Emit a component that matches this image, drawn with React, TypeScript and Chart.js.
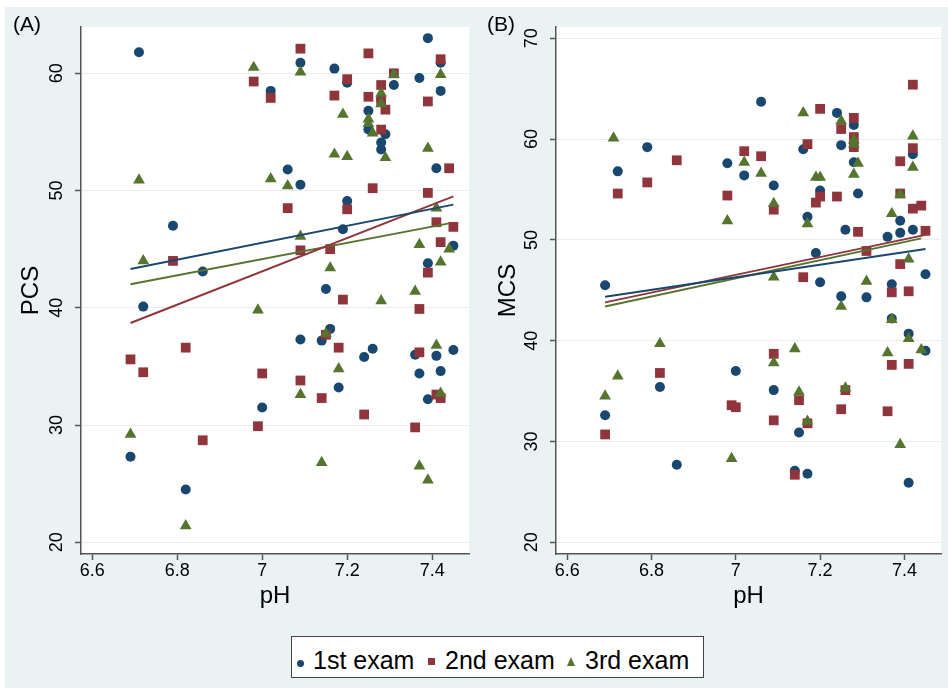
import React, { useEffect, useRef } from "react";
import { Chart, registerables } from "chart.js";
Chart.register(...registerables);

const FONT = "'Liberation Sans', Arial, Helvetica, sans-serif";

const seriesNames = ["1st exam", "2nd exam", "3rd exam"];
const xTicks = [6.6, 6.8, 7, 7.2, 7.4];
const xTickLabels = ["6.6", "6.8", "7", "7.2", "7.4"];
const pcsTicks = [20, 30, 40, 50, 60];
const mcsTicks = [20, 30, 40, 50, 60, 70];

type P = [number, number];

// Panel A: PCS vs pH
const pcs1: P[] = [[6.71,61.8],[7.02,58.5],[6.79,47.0],[6.86,43.1],[6.72,40.1],[7.00,31.5],[6.69,27.3],[6.82,24.5],[7.39,63.0],[7.09,60.9],[7.42,60.9],[7.17,60.4],[7.20,59.2],[7.31,59.0],[7.37,59.6],[7.42,58.5],[7.28,57.8],[7.25,56.8],[7.25,55.2],[7.29,54.8],[7.28,54.1],[7.28,53.5],[7.41,51.9],[7.06,51.8],[7.09,50.5],[7.20,49.1],[7.19,46.7],[7.45,45.3],[7.39,43.8],[7.15,41.6],[7.09,37.3],[7.14,37.2],[7.16,38.2],[7.24,35.8],[7.26,36.5],[7.36,36.0],[7.41,35.9],[7.45,36.4],[7.37,34.4],[7.42,34.6],[7.18,33.2],[7.39,32.2]];
const pcs2: P[] = [[6.98,59.3],[7.02,57.9],[6.79,44.0],[6.82,36.6],[6.69,35.6],[6.72,34.5],[7.00,34.4],[6.99,29.9],[6.86,28.7],[7.09,62.1],[7.25,61.7],[7.42,61.2],[7.20,59.5],[7.31,60.0],[7.28,59.0],[7.28,57.6],[7.29,56.9],[7.17,58.1],[7.25,58.0],[7.39,57.6],[7.28,55.2],[7.44,51.9],[7.26,50.2],[7.39,49.8],[7.06,48.5],[7.20,48.4],[7.41,47.3],[7.45,46.9],[7.42,45.6],[7.09,44.9],[7.16,45.0],[7.39,43.0],[7.19,40.7],[7.37,39.9],[7.15,37.7],[7.18,36.6],[7.37,36.2],[7.09,33.8],[7.14,32.3],[7.41,32.6],[7.42,32.3],[7.24,30.9],[7.36,29.8]];
const pcs3: P[] = [[6.98,60.5],[6.71,50.9],[7.02,51.0],[6.72,44.0],[6.99,39.8],[6.69,29.2],[6.82,21.4],[7.09,60.1],[7.31,59.9],[7.42,59.9],[7.28,58.3],[7.28,57.4],[7.19,56.5],[7.25,56.1],[7.25,55.7],[7.26,54.9],[7.29,52.8],[7.17,53.1],[7.20,52.9],[7.39,53.6],[7.06,50.4],[7.41,48.5],[7.09,46.1],[7.44,45.0],[7.37,45.4],[7.42,43.9],[7.16,43.4],[7.28,40.6],[7.36,41.4],[7.15,37.8],[7.41,36.8],[7.18,34.8],[7.09,32.6],[7.42,32.7],[7.14,26.8],[7.37,26.5],[7.39,25.3]];
const pcsFit1: P[] = [[6.69,43.3],[7.45,48.8]];
const pcsFit2: P[] = [[6.69,38.7],[7.45,49.5]];
const pcsFit3: P[] = [[6.69,42.0],[7.44,47.2]];

// Panel B: MCS vs pH
const mcs1: P[] = [[6.79,59.2],[6.72,56.8],[6.98,57.6],[6.69,45.5],[6.82,35.4],[6.69,32.6],[6.86,27.7],[7.00,37.0],[7.06,63.7],[7.24,62.6],[7.28,61.4],[7.25,59.4],[7.42,58.5],[7.16,59.0],[7.28,57.7],[7.02,56.4],[7.09,55.4],[7.20,54.9],[7.29,54.6],[7.17,52.3],[7.39,51.9],[7.26,51.0],[7.36,50.3],[7.39,50.7],[7.42,51.0],[7.19,48.7],[7.45,46.6],[7.20,45.8],[7.37,45.6],[7.25,44.4],[7.31,44.3],[7.37,42.2],[7.41,40.7],[7.45,39.0],[7.09,35.1],[7.15,30.9],[7.14,27.1],[7.17,26.8],[7.41,25.9]];
const mcs2: P[] = [[6.86,57.9],[6.79,55.7],[6.72,54.6],[6.98,54.4],[6.82,36.8],[6.69,30.7],[6.99,33.6],[7.00,33.4],[7.42,65.4],[7.20,63.0],[7.28,62.1],[7.25,61.0],[7.28,60.2],[7.28,59.2],[7.42,59.1],[7.17,59.5],[7.39,57.8],[7.02,58.8],[7.06,58.3],[7.20,54.3],[7.19,53.7],[7.24,54.3],[7.09,53.0],[7.39,54.6],[7.42,53.1],[7.44,53.4],[7.29,50.8],[7.45,50.9],[7.31,48.9],[7.39,47.6],[7.16,46.3],[7.37,44.8],[7.41,44.9],[7.37,37.6],[7.41,37.7],[7.09,38.7],[7.15,34.1],[7.26,35.1],[7.25,33.2],[7.36,33.0],[7.09,32.1],[7.17,31.8],[7.14,26.7]];
const mcs3: P[] = [[6.71,60.1],[6.98,51.9],[6.82,39.7],[6.72,36.5],[6.69,34.5],[6.99,28.3],[7.16,62.6],[7.25,61.8],[7.28,59.9],[7.28,59.5],[7.42,60.3],[7.42,57.2],[7.29,57.6],[7.28,56.5],[7.02,57.7],[7.06,56.6],[7.19,56.2],[7.20,56.2],[7.09,53.6],[7.39,54.5],[7.17,51.6],[7.37,52.6],[7.41,48.1],[7.09,46.3],[7.31,45.9],[7.25,43.4],[7.37,42.1],[7.41,40.2],[7.44,39.1],[7.36,38.8],[7.14,39.2],[7.09,37.8],[7.15,34.9],[7.26,35.3],[7.17,32.0],[7.39,29.7]];
const mcsFit1: P[] = [[6.69,44.35],[7.45,49.1]];
const mcsFit2: P[] = [[6.69,43.8],[7.45,50.5]];
const mcsFit3: P[] = [[6.69,43.4],[7.44,50.15]];

const NAVY = "rgb(26,71,111)";
const MAROON = "rgb(144,53,59)";
const FOREST = "rgb(85,117,47)";
const BG = "rgb(234,242,243)";
const GRID = "rgb(228,237,239)";
const AXIS = "#555555";

const toXY = (arr: P[]) => arr.map(([x, y]) => ({ x, y }));

const plotBg = {
  id: "plotBg",
  beforeDraw(chart: any) {
    const { ctx, chartArea } = chart;
    ctx.save();
    ctx.fillStyle = "#ffffff";
    ctx.fillRect(chartArea.left, chartArea.top, chartArea.right - chartArea.left, chartArea.bottom - chartArea.top);
    ctx.restore();
  },
};

interface PanelProps {
  left: number;
  width: number;
  height: number;
  yWidth: number;
  padRight: number;
  yTitle: string;
  yTitlePad: number;
  yMin: number;
  yMax: number;
  yTicks: number[];
  s1: P[]; s2: P[]; s3: P[];
  f1: P[]; f2: P[]; f3: P[];
}

function Panel(p: PanelProps) {
  const ref = useRef<HTMLCanvasElement | null>(null);
  useEffect(() => {
    if (!ref.current) return;
    const lineDs = (d: P[], c: string) => ({
      type: "line" as const,
      data: toXY(d),
      borderColor: c,
      borderWidth: 2,
      pointRadius: 0,
      showLine: true,
      fill: false,
      order: 0,
    });
    const chart = new Chart(ref.current, {
      type: "scatter",
      data: {
        datasets: [
          lineDs(p.f1, NAVY),
          lineDs(p.f2, MAROON),
          lineDs(p.f3, FOREST),
          { label: seriesNames[2], data: toXY(p.s3), pointStyle: "triangle", pointRadius: 6.8, backgroundColor: FOREST, borderWidth: 0, order: 1 } as any,
          { label: seriesNames[1], data: toXY(p.s2), pointStyle: "rect", pointRadius: 6.9, backgroundColor: MAROON, borderWidth: 0, order: 2 } as any,
          { label: seriesNames[0], data: toXY(p.s1), pointStyle: "circle", pointRadius: 5, backgroundColor: NAVY, borderWidth: 0, order: 3 } as any,
        ],
      },
      options: {
        responsive: false,
        maintainAspectRatio: false,
        animation: false,
        events: [],
        layout: { padding: { left: 0, top: 27, right: p.padRight, bottom: 0 } },
        plugins: { legend: { display: false }, tooltip: { enabled: false } },
        scales: {
          x: {
            type: "linear",
            min: 6.5735,
            max: 7.487,
            bounds: "data",
            afterBuildTicks: (s: any) => { s.ticks = xTicks.map((v) => ({ value: v })); },
            afterFit: (s: any) => { s.height = p.height - 554; },
            ticks: {
              callback: (_v: any, i: number) => xTickLabels[i],
              font: { family: FONT, size: 18 },
              color: "#000",
              padding: 0,
              minRotation: 0,
              maxRotation: 0,
              autoSkip: false,
            },
            grid: { drawOnChartArea: false, tickLength: 6, tickColor: AXIS, tickWidth: 1.5 },
            border: { display: true, color: AXIS, width: 1.5 },
            title: { display: true, text: "pH", font: { family: FONT, size: 24 }, color: "#000", padding: { top: 0, bottom: 14 } },
          },
          y: {
            type: "linear",
            min: p.yMin,
            max: p.yMax,
            bounds: "data",
            afterBuildTicks: (s: any) => { s.ticks = p.yTicks.map((v) => ({ value: v })); },
            afterFit: (s: any) => { s.width = p.yWidth; },
            ticks: {
              callback: (v: any) => String(v),
              font: { family: FONT, size: 18 },
              color: "#000",
              padding: 8,
              minRotation: 90,
              maxRotation: 90,
              crossAlign: "center",
              autoSkip: false,
            },
            grid: { color: GRID, lineWidth: 1, tickLength: 6, tickColor: AXIS, tickWidth: 1.5 },
            border: { display: true, color: AXIS, width: 1.5 },
            title: { display: true, text: p.yTitle, font: { family: FONT, size: 24 }, color: "#000", padding: { top: p.yTitlePad, bottom: 0 } },
          },
        },
      } as any,
      plugins: [plotBg],
    });
    return () => chart.destroy();
  }, []);
  return (
    <canvas
      ref={ref}
      width={p.width}
      height={p.height}
      style={{ position: "absolute", left: p.left, top: 0, width: p.width, height: p.height }}
    />
  );
}

const legendText: React.CSSProperties = {
  position: "absolute",
  fontFamily: FONT,
  fontSize: 25,
  lineHeight: "25px",
  color: "#000",
  whiteSpace: "nowrap",
  top: 11,
};

export default function App() {
  return (
    <div style={{ position: "absolute", left: 0, top: 0, width: 948, height: 688, background: "#fff", overflow: "hidden" }}>
      <div style={{ position: "absolute", left: 5, top: 7, right: 0, bottom: 0, background: BG }} />
      <Panel
        left={0} width={476} height={625} yWidth={81} padRight={5}
        yTitle="PCS" yTitlePad={16.5} yMin={19.0} yMax={63.95} yTicks={pcsTicks}
        s1={pcs1} s2={pcs2} s3={pcs3} f1={pcsFit1} f2={pcsFit2} f3={pcsFit3}
      />
      <Panel
        left={476} width={472} height={625} yWidth={80} padRight={3}
        yTitle="MCS" yTitlePad={17.5} yMin={18.84} yMax={71.12} yTicks={mcsTicks}
        s1={mcs1} s2={mcs2} s3={mcs3} f1={mcsFit1} f2={mcsFit2} f3={mcsFit3}
      />
      <div style={{ position: "absolute", left: 13, top: 13, fontFamily: FONT, fontSize: 21, lineHeight: "21px", color: "#000" }}>(A)</div>
      <div style={{ position: "absolute", left: 487, top: 13, fontFamily: FONT, fontSize: 21, lineHeight: "21px", color: "#000" }}>(B)</div>
      <div style={{ position: "absolute", left: 291, top: 636, width: 413, height: 42, boxSizing: "border-box", background: "#fff", border: "1px solid #444" }}>
        <div style={{ position: "absolute", left: 5.2, top: 23, width: 7, height: 7, borderRadius: "50%", background: NAVY }} />
        <div style={{ ...legendText, left: 21 }}>{seriesNames[0]}</div>
        <div style={{ position: "absolute", left: 135.6, top: 20.8, width: 7.7, height: 7.7, background: MAROON }} />
        <div style={{ ...legendText, left: 153 }}>{seriesNames[1]}</div>
        <div style={{ position: "absolute", left: 275.3, top: 19.8, width: 0, height: 0, borderLeft: "4.7px solid transparent", borderRight: "4.7px solid transparent", borderBottom: `9px solid ${FOREST}` }} />
        <div style={{ ...legendText, left: 293 }}>{seriesNames[2]}</div>
      </div>
    </div>
  );
}
